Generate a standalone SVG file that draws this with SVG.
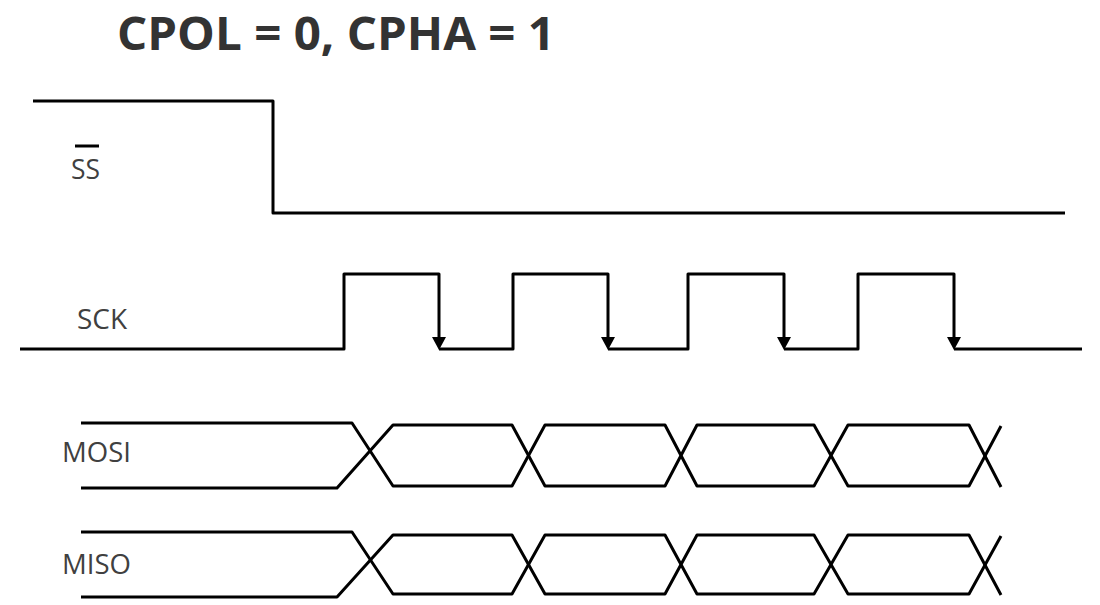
<svg xmlns="http://www.w3.org/2000/svg" xmlns:xlink="http://www.w3.org/1999/xlink" width="1100" height="605" viewBox="0 0 1100 605">
  <style>
    .wave { fill: none; stroke: #000; stroke-width: 3; stroke-linejoin: round; stroke-linecap: butt; }
    .lbl { font-family: "Open Sans", "Liberation Sans", sans-serif; font-size: 28px; fill: #404040; }
    .title { font-family: "Open Sans", "Liberation Sans", sans-serif; font-size: 46px; font-weight: bold; fill: #333333; }
    .ah { fill: #000; }
  </style>
  <defs>
    <path id="arrowhead" class="ah" d="M-7,-13 L7,-13 L0,0 Z"/>
  </defs>
  <rect width="1100" height="605" fill="#ffffff"/>

  <g id="title">
    <text class="title" x="117" y="50" textLength="438" lengthAdjust="spacingAndGlyphs">CPOL = 0, CPHA = 1</text>
  </g>

  <g id="ss">
    <text class="lbl" x="71" y="179" textLength="29" lengthAdjust="spacingAndGlyphs">SS</text>
    <line x1="75" y1="146" x2="99" y2="146" stroke="#000" stroke-width="3"/>
    <path class="wave" d="M33,101 H273 V213 H1065"/>
  </g>

  <g id="sck">
    <text class="lbl" x="77" y="329" textLength="50" lengthAdjust="spacingAndGlyphs">SCK</text>
    <path class="wave" d="M20,349 H344 V274 H439 V340 M439,349 H513 V274 H608 V340 M608,349 H688 V274 H784 V340 M784,349 H858 V274 H954 V340 M954,349 H1082"/>
  </g>

  <g id="connectors">
    <use xlink:href="#arrowhead" href="#arrowhead" x="439" y="350"/>
    <use xlink:href="#arrowhead" href="#arrowhead" x="608" y="350"/>
    <use xlink:href="#arrowhead" href="#arrowhead" x="784" y="350"/>
    <use xlink:href="#arrowhead" href="#arrowhead" x="954" y="350"/>
  </g>

  <g id="mosi">
    <text class="lbl" x="62" y="462" textLength="69" lengthAdjust="spacingAndGlyphs">MOSI</text>
    <path class="wave" d="M81,423 H352 L393,486 H512 L545,425 H665 L697,486 H814 L848,425 H969 L1001,487"/>
    <path class="wave" d="M81,488 H337 L393,425 H512 L545,486 H665 L697,425 H814 L848,486 H969 L1001,426"/>
  </g>

  <g id="miso">
    <text class="lbl" x="62" y="574" textLength="69" lengthAdjust="spacingAndGlyphs">MISO</text>
    <path class="wave" d="M81,532 H352 L393,594 H512 L545,535 H665 L697,594 H814 L848,535 H969 L1001,595"/>
    <path class="wave" d="M81,597 H337 L393,535 H512 L545,594 H665 L697,535 H814 L848,594 H969 L1001,536"/>
  </g>
</svg>
